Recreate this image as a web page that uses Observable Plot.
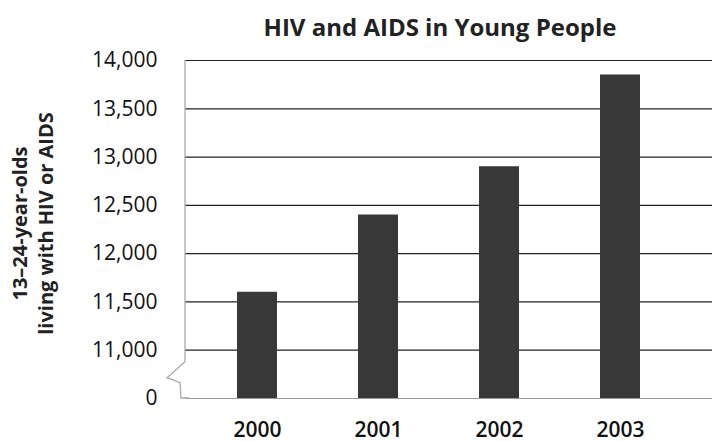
<!DOCTYPE html>
<html><head><meta charset="utf-8">
<script src="https://cdn.jsdelivr.net/npm/d3@7"></script>
<script src="https://cdn.jsdelivr.net/npm/@observablehq/plot@0.6"></script>
<style>
body{margin:0;background:#fff;font-family:"Open Sans",sans-serif;}
#title{box-sizing:border-box;width:712px;height:40px;padding:14px 0 0 168px;text-align:center;font-weight:700;font-size:24px;line-height:26px;color:#222;white-space:nowrap;}
</style></head><body>
<div id="title">HIV and AIDS in Young People</div>
<div id="chart"></div>
<script>
const years = ["2000", "2001", "2002", "2003"];
const counts = [11600, 12400, 12900, 13850];
const gridTicks = [11000, 11500, 12000, 12500, 13000, 13500, 14000];
// broken axis: the "0" baseline is drawn one tick step below 11,000
const axisBreak = 10500;
const yTicks = [axisBreak, ...gridTicks];
const yTitle = ["13–24-year-olds", "living with HIV or AIDS"];
const data = years.map((year, i) => ({year, count: counts[i]}));

const W = 712, H = 402, mt = 20, mb = 44, ml = 185;
const fmt = d3.format(",");

const plot = Plot.plot({
  width: W, height: H,
  marginTop: mt, marginBottom: mb, marginLeft: ml, marginRight: 0,
  style: {fontFamily: '"Open Sans", sans-serif', background: "transparent", color: "#111"},
  x: {domain: years, range: [ml, 692], paddingInner: 0.67, paddingOuter: 0.43, label: null},
  y: {domain: [axisBreak, 14000], label: null},
  marks: [
    Plot.ruleY(gridTicks, {stroke: "#222", strokeWidth: 1.2}),
    Plot.ruleY([axisBreak], {stroke: "#999", strokeWidth: 1.2}),
    Plot.barY(data, {x: "year", y1: axisBreak, y2: "count", fill: "#383838"}),
    Plot.axisY(yTicks, {tickSize: 0, tickPadding: 28, fontSize: 21, tickFormat: d => d === axisBreak ? "0" : fmt(d), label: null}),
    Plot.axisX({tickSize: 0, tickPadding: 24, fontSize: 21, fontWeight: 600, label: null}),
    Plot.text([yTitle.join("\n")], {frameAnchor: "left", textAnchor: "middle", rotate: -90, dx: -154, dy: -6, fontSize: 20, fontWeight: 700, lineAnchor: "middle", lineHeight: 1.3, fill: "#222"})
  ]
});

// left frame edge with axis-break zigzag, positioned through the y scale
const ys = plot.scale("y");
const yT = ys.apply(14000), yB = ys.apply(axisBreak), yK = ys.apply(11000);
d3.select(plot).append("path")
  .attr("d", `M${ml},${yT}L${ml},${yK + 12}L${ml - 18},${yK + 28}L${ml - 5},${yK + 33}L${ml - 4},${yB}L${ml + 4},${yB}`)
  .attr("fill", "none").attr("stroke", "#aaa").attr("stroke-width", 1.3);

document.getElementById("chart").appendChild(plot);
</script>
</body></html>
